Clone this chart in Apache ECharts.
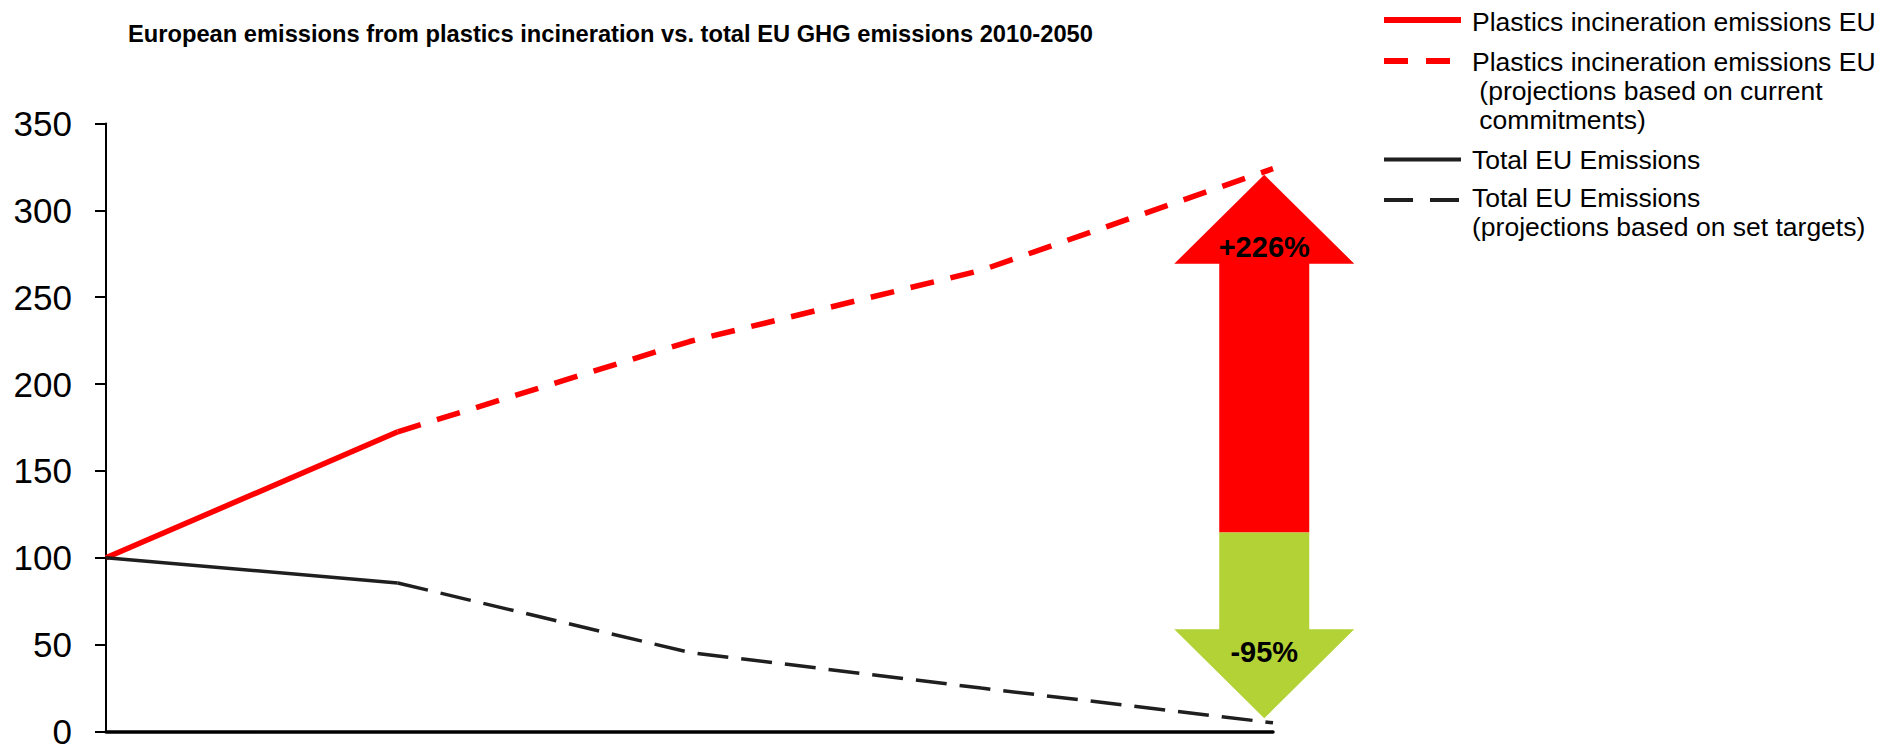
<!DOCTYPE html>
<html>
<head>
<meta charset="utf-8">
<script src="https://cdn.jsdelivr.net/npm/echarts@6/dist/echarts.min.js"></script>
<style>
html,body{margin:0;padding:0;background:#fff;}
#main{width:1898px;height:749px;}
</style>
</head>
<body>
<div id="main"></div>
<script>
// ---- data ----
const years = [2010, 2020, 2030, 2040, 2050];
const plasticsActual    = [100, 172.5, null, null, null];
const plasticsProjected = [null, 172.5, 224.5, 265.5, 324];
const totalActual       = [100, 85.5, null, null, null];
const totalProjected    = [null, 85.5, 45.5, 25, 5];
const yTicks = [0, 50, 100, 150, 200, 250, 300, 350];
// arrow annotation: [x(year), red tip value, red/green split value, green tip value]
const arrowValues = [2049.7, 320.5, 114.5, 7.6];
const arrowLabels = ['+226%', '-95%'];
const seriesNames = [
  'Plastics incineration emissions EU',
  'Plastics incineration emissions EU\n\u00a0(projections based on current\n\u00a0commitments)',
  'Total EU Emissions',
  'Total EU Emissions\n(projections based on set targets)'
];
const titleText = 'European emissions from plastics incineration vs. total EU GHG emissions 2010-2050';

// ---- styles ----
const FONT = 'Liberation Sans, Arial, sans-serif';
const RED = '#ff0000', BLACK = '#1f1f1f', GREEN = '#b3d236';
const seriesStyles = [
  {color:RED, width:5.5, dash:null, legendWidth:6},
  {color:RED, width:5.5, dash:[24,17], legendDash:[24,18], legendWidth:6},
  {color:BLACK, width:3.5, dash:null, legendWidth:4},
  {color:BLACK, width:3.5, dash:[31,13], legendDash:[29,17], legendWidth:4}
];
// legend layout (pixels): icon centre y, first text line centre y
const legendLayout = [
  {iconY:20, textY:22},
  {iconY:61, textY:62},
  {iconY:159.5, textY:159.5},
  {iconY:200, textY:198}
];
const LEG_X = 1384, LEG_W = 77, LEG_TX = 1472, LH = 29;

function pairs(arr){ return years.map((y,i)=>[y, arr[i]]).filter(d=>d[1]!=null); }
const seriesData = [plasticsActual, plasticsProjected, totalActual, totalProjected];

const legendGraphics = [];
seriesNames.forEach((name, i) => {
  const st = seriesStyles[i], lay = legendLayout[i];
  legendGraphics.push({
    type:'line', shape:{x1:LEG_X, y1:lay.iconY, x2:LEG_X+LEG_W, y2:lay.iconY},
    style:{stroke:st.color, lineWidth:st.legendWidth, lineDash:st.legendDash || null, lineCap:'butt'}
  });
  legendGraphics.push({
    type:'text', x:LEG_TX, y:lay.textY - LH/2,
    style:{text:name, font:'26.5px ' + FONT, lineHeight:LH, fill:'#000', verticalAlign:'top', align:'left'}
  });
});

const chart = echarts.init(document.getElementById('main'), null, {renderer:'svg'});
const option = {
  animation:false,
  backgroundColor:'#fff',
  textStyle:{fontFamily:FONT},
  title:{
    text:titleText, left:128, top:20, padding:0,
    textStyle:{fontSize:23.7, fontWeight:'bold', color:'#000', lineHeight:28, fontFamily:FONT}
  },
  graphic:legendGraphics,
  grid:{left:106, right:625, top:123.5, bottom:14, containLabel:false},
  xAxis:{
    type:'value', min:years[0], max:years[years.length-1],
    axisLine:{show:true, onZero:false, lineStyle:{color:'#000', width:3.5}},
    axisTick:{show:false}, axisLabel:{show:false}, splitLine:{show:false}
  },
  yAxis:{
    type:'value', min:yTicks[0], max:yTicks[yTicks.length-1], interval:50,
    axisLine:{show:true, lineStyle:{color:'#000', width:2}},
    axisTick:{show:true, length:11, lineStyle:{color:'#000', width:2}},
    axisLabel:{fontSize:35, color:'#000', margin:34, fontFamily:FONT},
    splitLine:{show:false}
  },
  series: seriesNames.map((name, i) => ({
    name:name, type:'line', data:pairs(seriesData[i]), symbol:'none', z:3,
    lineStyle:{color:seriesStyles[i].color, width:seriesStyles[i].width,
      type: seriesStyles[i].dash || 'solid', cap:'butt'},
    itemStyle:{color:seriesStyles[i].color}
  })).concat([{
    name:'arrow', type:'custom', z:4, clip:false, silent:true,
    data:[arrowValues],
    renderItem:function(params, api){
      const x = api.coord([api.value(0), 0])[0];
      const yTop = api.coord([years[0], api.value(1)])[1];
      const ySplit = api.coord([years[0], api.value(2)])[1];
      const yBot = api.coord([years[0], api.value(3)])[1];
      const sh = 45, hh = 90, hH = 89;
      return {type:'group', children:[
        {type:'polygon', shape:{points:[[x,yTop],[x+hh,yTop+hH],[x+sh,yTop+hH],[x+sh,ySplit],[x-sh,ySplit],[x-sh,yTop+hH],[x-hh,yTop+hH]]},
          style:{fill:RED}},
        {type:'polygon', shape:{points:[[x-sh,ySplit],[x+sh,ySplit],[x+sh,yBot-hH],[x+hh,yBot-hH],[x,yBot],[x-hh,yBot-hH],[x-sh,yBot-hH]]},
          style:{fill:GREEN}},
        {type:'text', style:{text:arrowLabels[0], x:x, y:yTop+72.5, align:'center', verticalAlign:'middle',
          font:'bold 29px ' + FONT, fill:'#000'}},
        {type:'text', style:{text:arrowLabels[1], x:x, y:yBot-66.5, align:'center', verticalAlign:'middle',
          font:'bold 29px ' + FONT, fill:'#000'}}
      ]};
    }
  }])
};
chart.setOption(option);
</script>
</body>
</html>
